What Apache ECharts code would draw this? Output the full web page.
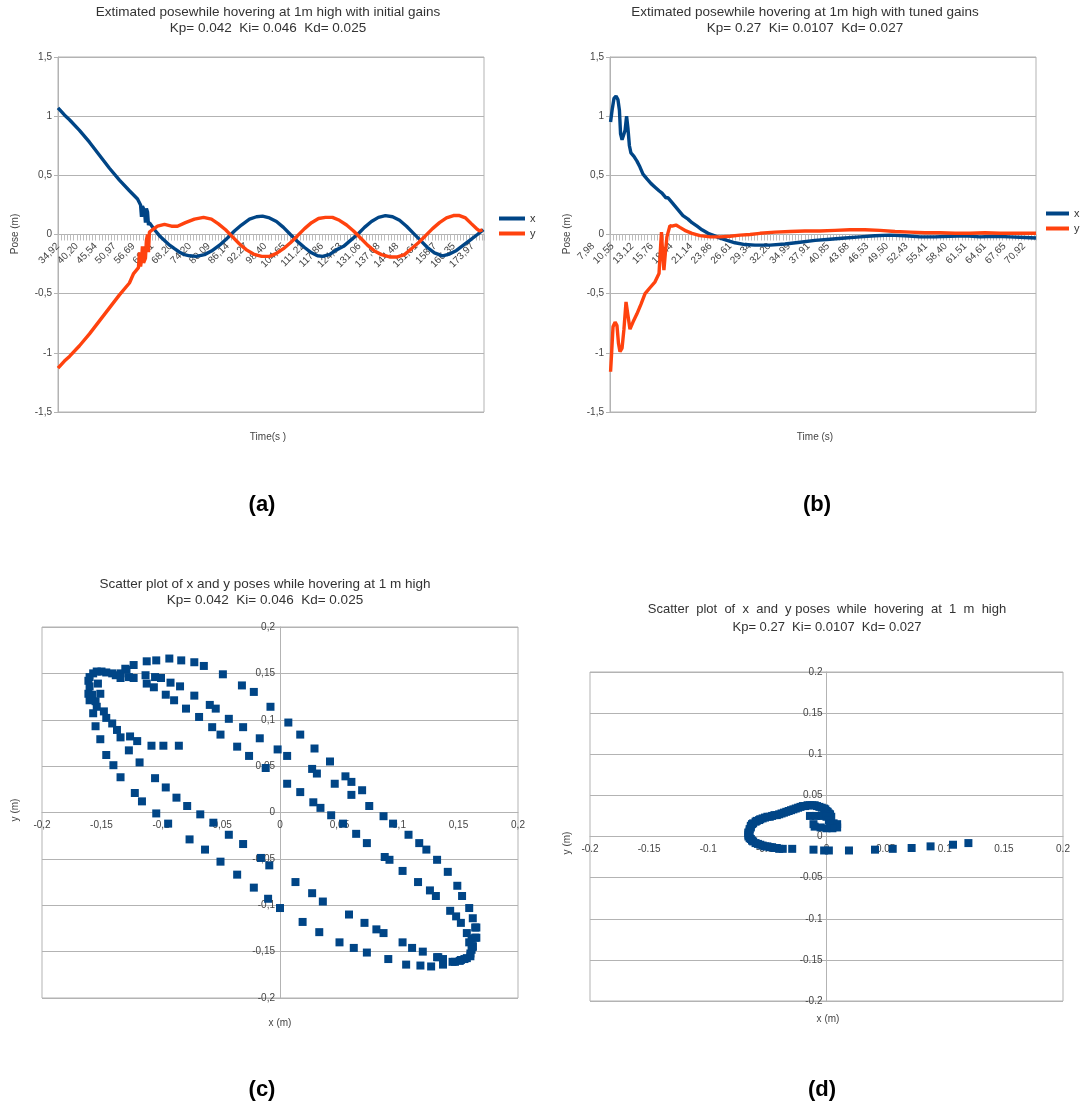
<!DOCTYPE html>
<html>
<head>
<meta charset="utf-8">
<script src="https://cdn.jsdelivr.net/npm/echarts@6/dist/echarts.min.js"></script>
<style>
  html, body { margin: 0; padding: 0; background: #fff; }
  #chart { width: 1081px; height: 1106px; }
</style>
</head>
<body>
<div id="chart"></div>
<script>
// ---- Tick labels of the time axes (seconds, comma decimals) ----
const TIME_LABELS_A = ['34,92','40,20','45,54','50,97','56,69','62,41','68,20','74,20','80,09','86,14','92,27','98,40',
  '104,65','111,22','117,86','124,53','131,06','137,68','144,48','151,61','158,7','166,35','173,97'];
const TIME_LABELS_B = ['7,98','10,55','13,12','15,76','18,44','21,14','23,86','26,61','29,34','32,20','34,99','37,91',
  '40,85','43,68','46,53','49,50','52,43','55,41','58,40','61,51','64,61','67,65','70,92'];

// ---- Pose over time, initial gains: [position on the time axis (label steps), pose in m] ----
const POSE_X_A = [[0,1.07],[0.34,1.01],[0.61,0.97],[1.14,0.88],[1.67,0.78],[2.20,0.67],[2.73,0.56],[3.26,0.46],[3.79,0.37],
  [4.22,0.30],[4.38,0.25],[4.43,0.15],[4.48,0.24],[4.59,0.20],[4.64,0.10],[4.69,0.22],[4.75,0.19],[4.80,0.08],[4.85,0.10],
  [5.12,0.04],[5.38,-0.01],[5.65,-0.05],[5.92,-0.09],[6.18,-0.12],[6.45,-0.15],[6.71,-0.17],[6.98,-0.18],[7.35,-0.185],
  [7.77,-0.17],[8.14,-0.14],[8.57,-0.09],[8.99,-0.03],[9.36,0.03],[9.73,0.08],[10.16,0.13],[10.53,0.15],[10.85,0.155],
  [11.22,0.14],[11.59,0.11],[11.96,0.06],[12.33,0.00],[12.71,-0.06],[13.08,-0.11],[13.45,-0.155],[13.77,-0.18],[14.03,-0.185],
  [14.40,-0.17],[14.77,-0.13],[15.15,-0.10],[15.52,-0.05],[15.89,0.00],[16.26,0.06],[16.63,0.11],[17.00,0.145],[17.37,0.16],
  [17.75,0.15],[18.12,0.12],[18.49,0.07],[18.86,0.01],[19.23,-0.05],[19.60,-0.11],[19.97,-0.155],[20.40,-0.18],[20.77,-0.165],
  [21.14,-0.135],[21.51,-0.09],[21.88,-0.045],[22.25,0.00],[22.57,0.04]];
const POSE_Y_A = [[0,-1.13],[0.34,-1.07],[0.61,-1.03],[1.14,-0.94],[1.67,-0.84],[2.20,-0.73],[2.73,-0.62],[3.26,-0.51],[3.79,-0.41],
  [4.01,-0.33],[4.27,-0.28],[4.32,-0.15],[4.38,-0.27],[4.43,-0.22],[4.48,-0.10],[4.54,-0.24],[4.64,-0.20],[4.69,-0.05],[4.75,0.00],
  [4.80,-0.15],[4.85,0.02],[5.01,0.04],[5.28,0.07],[5.65,0.085],[6.02,0.07],[6.34,0.07],[6.76,0.10],[7.24,0.13],[7.72,0.145],
  [8.14,0.13],[8.51,0.09],[8.89,0.04],[9.26,-0.02],[9.63,-0.08],[10.00,-0.13],[10.37,-0.165],[10.80,-0.185],[11.22,-0.185],
  [11.59,-0.16],[11.96,-0.12],[12.33,-0.07],[12.71,-0.01],[13.08,0.05],[13.45,0.10],[13.82,0.135],[14.19,0.145],[14.56,0.145],
  [14.93,0.12],[15.31,0.08],[15.68,0.03],[16.05,-0.03],[16.42,-0.09],[16.79,-0.14],[17.16,-0.17],[17.59,-0.19],[18.01,-0.19],
  [18.38,-0.17],[18.75,-0.12],[19.12,-0.07],[19.50,-0.01],[19.87,0.05],[20.24,0.10],[20.61,0.14],[20.98,0.16],[21.30,0.16],
  [21.62,0.14],[21.94,0.09],[22.20,0.05],[22.36,0.03],[22.52,0.04]];

// ---- Pose over time, tuned gains ----
const POSE_X_B = [[0.03,0.95],[0.11,1.05],[0.21,1.15],[0.32,1.17],[0.42,1.14],[0.50,1.05],[0.56,0.85],[0.64,0.80],[0.72,0.80],
  [0.80,0.88],[0.88,1.00],[0.95,0.90],[1.03,0.75],[1.11,0.69],[1.27,0.66],[1.43,0.62],[1.59,0.57],[1.75,0.51],[1.96,0.47],
  [2.18,0.43],[2.39,0.40],[2.60,0.37],[2.76,0.35],[2.86,0.36],[2.97,0.31],[3.08,0.31],[3.24,0.28],[3.45,0.24],[3.66,0.20],
  [3.87,0.16],[4.14,0.13],[4.35,0.10],[4.62,0.07],[4.88,0.04],[5.20,0.01],[5.52,-0.01],[5.84,-0.03],[6.21,-0.05],[6.63,-0.07],
  [7.16,-0.085],[7.69,-0.09],[8.49,-0.09],[9.28,-0.08],[10.08,-0.065],[10.88,-0.05],[11.67,-0.04],[12.47,-0.03],[13.26,-0.02],
  [14.06,-0.01],[14.85,-0.005],[15.65,-0.01],[16.45,-0.02],[17.24,-0.02],[18.04,-0.015],[18.83,-0.01],[19.63,-0.02],
  [20.42,-0.015],[21.22,-0.02],[22.02,-0.025],[22.60,-0.03]];
const POSE_Y_B = [[0.03,-1.16],[0.08,-1.02],[0.16,-0.78],[0.27,-0.74],[0.37,-0.77],[0.45,-0.92],[0.53,-0.99],[0.64,-0.96],
  [0.74,-0.80],[0.85,-0.57],[0.95,-0.68],[1.06,-0.80],[1.22,-0.74],[1.43,-0.67],[1.64,-0.59],[1.86,-0.50],[2.12,-0.45],
  [2.39,-0.40],[2.60,-0.33],[2.73,0.02],[2.79,-0.15],[2.86,-0.30],[2.94,-0.15],[3.02,-0.02],[3.18,0.075],[3.29,0.07],
  [3.50,0.08],[3.71,0.06],[4.03,0.03],[4.35,0.01],[4.77,-0.01],[5.31,-0.02],[5.84,-0.02],[6.37,-0.015],[6.90,-0.005],
  [7.43,0.0],[7.96,0.01],[8.75,0.02],[9.55,0.025],[10.34,0.03],[11.14,0.03],[11.94,0.035],[12.73,0.04],[13.53,0.04],
  [14.32,0.035],[15.12,0.025],[15.92,0.02],[16.71,0.015],[17.51,0.015],[18.30,0.01],[19.10,0.01],[19.89,0.015],
  [20.69,0.01],[21.49,0.01],[22.60,0.01]];

// ---- x/y pose pairs, initial gains: [x m, y m] ----
const SCATTER_C = [
  [-0.112,0.163],[-0.104,0.164],[-0.093,0.166],[-0.083,0.164],[-0.072,0.162],[-0.064,0.158],[-0.048,0.149],[-0.032,0.137],
  [-0.022,0.130],[-0.008,0.114],[0.007,0.097],[0.017,0.084],[0.029,0.069],[0.042,0.055],[0.055,0.039],[0.060,0.033],
  [0.069,0.024],[0.075,0.007],[0.087,-0.004],[0.095,-0.012],[0.108,-0.024],[0.117,-0.033],[0.123,-0.040],[0.132,-0.051],
  [0.141,-0.064],[0.149,-0.079],[0.153,-0.090],[0.159,-0.103],[0.162,-0.114],[0.165,-0.124],[0.165,-0.135],[0.162,-0.145],
  [-0.123,0.159],[-0.130,0.155],[-0.113,0.148],[-0.105,0.146],[-0.100,0.145],[-0.092,0.140],[-0.084,0.136],[-0.112,0.139],
  [-0.106,0.135],[-0.096,0.127],[-0.089,0.121],[-0.072,0.126],[-0.059,0.116],[-0.054,0.112],[-0.079,0.112],[-0.068,0.103],
  [-0.057,0.092],[-0.050,0.084],[-0.043,0.101],[-0.031,0.092],[-0.017,0.080],[-0.036,0.071],[-0.026,0.061],[-0.002,0.068],
  [0.006,0.061],[-0.012,0.048],[0.006,0.031],
  [-0.161,0.142],[-0.157,0.150],[-0.150,0.152],[-0.141,0.150],[-0.134,0.150],[-0.129,0.154],[-0.160,0.136],[-0.158,0.127],
  [-0.155,0.120],[-0.154,0.114],[-0.157,0.107],[-0.148,0.109],[-0.146,0.102],[-0.141,0.096],[-0.137,0.089],[-0.134,0.081],
  [-0.155,0.093],[-0.151,0.079],[-0.126,0.082],[-0.120,0.077],[-0.127,0.067],[-0.108,0.072],[-0.098,0.072],[-0.085,0.072],
  [-0.160,0.146],[-0.154,0.152],[-0.146,0.151],[-0.138,0.148],[-0.153,0.139],[-0.151,0.128],[-0.160,0.121],[-0.161,0.128],
  [-0.134,0.145],[-0.127,0.146],[-0.123,0.145],
  [-0.146,0.062],[-0.140,0.051],[-0.134,0.038],[-0.122,0.021],[-0.116,0.012],[-0.104,-0.001],[-0.094,-0.012],
  [-0.118,0.054],[-0.105,0.037],[-0.096,0.027],[-0.087,0.016],[-0.078,0.007],[-0.067,-0.002],[-0.056,-0.011],[-0.043,-0.024],
  [-0.031,-0.034],[-0.076,-0.029],[-0.063,-0.040],[-0.050,-0.053],[-0.036,-0.067],[-0.022,-0.081],[-0.010,-0.093],[0.000,-0.103],
  [-0.016,-0.049],[-0.009,-0.057],[0.013,-0.075],[0.027,-0.087],[0.036,-0.096],
  [0.027,0.047],[0.031,0.042],[0.046,0.031],[0.060,0.019],[0.017,0.022],[0.028,0.011],[0.034,0.005],[0.043,-0.003],
  [0.053,-0.012],[0.064,-0.023],[0.073,-0.033],[0.088,-0.048],[0.092,-0.051],[0.103,-0.063],[0.116,-0.075],[0.126,-0.084],
  [0.131,-0.090],[0.143,-0.106],[0.148,-0.112],[0.152,-0.119],[0.157,-0.130],[0.161,-0.136],
  [0.160,-0.152],[0.157,-0.157],[0.152,-0.159],[0.147,-0.161],[0.137,-0.164],[0.127,-0.166],[0.118,-0.165],[0.106,-0.164],
  [0.133,-0.156],[0.120,-0.150],[0.111,-0.146],[0.103,-0.140],[0.091,-0.158],[0.087,-0.130],[0.081,-0.126],[0.071,-0.119],
  [0.058,-0.110],[0.073,-0.151],[0.062,-0.146],[0.050,-0.140],[0.033,-0.129],[0.019,-0.118],
  [0.164,-0.124],[0.164,-0.135],[0.162,-0.144],[0.160,-0.155],[0.155,-0.158],[0.151,-0.160],[0.145,-0.161],[0.137,-0.158],
  [0.132,-0.156],[0.159,-0.140],[0.161,-0.148]];

// ---- x/y pose pairs, tuned gains ----
const SCATTER_D = [
  [-0.040,-0.015],[-0.042,-0.014],[-0.044,-0.014],[-0.046,-0.013],[-0.048,-0.013],[-0.050,-0.012],[-0.052,-0.012],
  [-0.054,-0.011],[-0.056,-0.010],[-0.058,-0.009],[-0.060,-0.008],[-0.062,-0.006],[-0.063,-0.005],[-0.064,-0.003],
  [-0.065,-0.002],[-0.066,0.000],[-0.066,0.002],[-0.066,0.004],[-0.066,0.005],[-0.065,0.007],[-0.065,0.009],[-0.064,0.011],
  [-0.064,0.013],[-0.063,0.015],[-0.062,0.016],[-0.060,0.018],[-0.059,0.019],[-0.057,0.020],[-0.056,0.021],[-0.054,0.022],
  [-0.052,0.023],[-0.050,0.024],[-0.048,0.024],[-0.046,0.025],[-0.044,0.026],[-0.042,0.026],[-0.040,0.027],[-0.038,0.028],
  [-0.036,0.029],[-0.034,0.030],[-0.032,0.031],[-0.030,0.032],[-0.028,0.033],[-0.026,0.034],[-0.024,0.035],[-0.022,0.036],
  [-0.020,0.037],[-0.018,0.037],[-0.016,0.038],[-0.014,0.038],[-0.012,0.038],[-0.010,0.038],[-0.008,0.037],[-0.006,0.036],
  [-0.004,0.035],[-0.002,0.034],[-0.001,0.033],[0.000,0.031],[0.001,0.030],[0.002,0.028],[0.003,0.027],[0.004,0.024],
  [-0.014,0.025],[-0.009,0.025],[-0.004,0.025],[0.000,0.024],[0.002,0.020],[0.003,0.016],[0.006,0.016],[0.009,0.015],
  [0.009,0.011],[0.005,0.010],[0.000,0.010],[-0.005,0.011],[-0.010,0.012],[-0.011,0.015],
  [-0.037,-0.015],[-0.029,-0.015],[-0.011,-0.016],[-0.002,-0.017],[0.002,-0.017],[0.019,-0.017],[0.041,-0.016],
  [0.056,-0.015],[0.072,-0.014],[0.088,-0.012],[0.107,-0.010],[0.120,-0.008]];

const BLUE = '#004586';
const ORANGE = '#ff420e';
const GRID_LINE = '#b3b3b3';
const LABEL = '#444';
const FONT = '"Liberation Sans", Arial, sans-serif';

const comma = v => String(+v.toFixed(2)).replace('.', ',');
const dot = v => String(+v.toFixed(2));

// Plot boxes. Grid 4 is an invisible strip that only carries the time labels of (b),
// whose label row runs a little further left than the plot itself.
const GRIDS = [
  { left: 58, top: 57, width: 426, height: 355 },
  { left: 610, top: 57, width: 426, height: 355 },
  { left: 42, top: 627, width: 476, height: 371 },
  { left: 590, top: 672, width: 473, height: 329 }
];
const LABEL_STRIP_B = { left: 593, top: 57, width: 431, height: 177.5 };

const halfH = g => -g.height / 2;
const halfW = g => -g.width / 2;

const timeLabel = (labels, showMax) => ({
  rotate: 45, margin: 10, fontSize: 10, color: LABEL, fontFamily: FONT, showMaxLabel: showMax,
  formatter: v => (Number.isInteger(v) && labels[v] !== undefined) ? labels[v] : ''
});

function timeAxis(gridIndex, labels) {
  return {
    gridIndex, type: 'value', min: 0, max: 22.6, interval: 1,
    position: 'bottom', offset: halfH(GRIDS[gridIndex]),
    axisLine: { onZero: false, lineStyle: { color: GRID_LINE, width: 1 } },
    axisTick: { show: true, length: 6, lineStyle: { color: '#bdbdbd' } },
    minorTick: { show: true, splitNumber: 6, length: 6, lineStyle: { color: '#bdbdbd' } },
    splitLine: { show: false },
    axisLabel: labels ? timeLabel(labels, false) : { show: false }
  };
}
function poseAxis(gridIndex) {
  return {
    gridIndex, type: 'value', min: -1.5, max: 1.5, interval: 0.5,
    axisLine: { show: true, onZero: false, lineStyle: { color: GRID_LINE } },
    axisTick: { show: true, length: 4, lineStyle: { color: GRID_LINE } },
    splitLine: { show: true, lineStyle: { color: GRID_LINE } },
    axisLabel: { margin: 6, fontSize: 10, color: LABEL, fontFamily: FONT, formatter: comma }
  };
}
function xyAxis(gridIndex, fmt, margin, isY) {
  const g = GRIDS[gridIndex];
  return {
    gridIndex, type: 'value', min: -0.2, max: 0.2, interval: 0.05,
    position: isY ? 'left' : 'bottom',
    offset: isY ? halfW(g) : halfH(g),
    axisLine: { show: true, onZero: false, lineStyle: { color: GRID_LINE } },
    axisTick: { show: false },
    splitLine: { show: isY, lineStyle: { color: GRID_LINE } },
    axisLabel: { margin, fontSize: 10, color: LABEL, fontFamily: FONT, formatter: fmt,
      showMinLabel: true, showMaxLabel: true }
  };
}
function lineSeries(name, data, color, axis) {
  return {
    name, type: 'line', data, xAxisIndex: axis, yAxisIndex: axis,
    showSymbol: false, symbol: 'none', smooth: false,
    lineStyle: { color, width: 3.4 }, itemStyle: { color }
  };
}
function text(x, y, str, opts) {
  return Object.assign({
    type: 'text', x, y,
    style: Object.assign({
      text: str, fill: '#333', font: '13.5px ' + FONT,
      align: 'center', textAlign: 'center', verticalAlign: 'middle', textVerticalAlign: 'middle'
    }, opts && opts.style)
  }, opts && opts.el);
}

const panelLetter = { font: 'bold 22px ' + FONT, fill: '#000' };
const smallText = { font: '10px ' + FONT, fill: '#444' };
const legendStyle = { fontSize: 11, color: '#333', fontFamily: FONT };

const option = {
  animation: false,
  backgroundColor: '#fff',
  grid: GRIDS.map(g => Object.assign({ show: true, borderColor: GRID_LINE, borderWidth: 1 }, g))
    .concat([Object.assign({ show: false }, LABEL_STRIP_B)]),
  xAxis: [
    timeAxis(0, TIME_LABELS_A),
    timeAxis(1, null),
    xyAxis(2, comma, 8, false),
    xyAxis(3, dot, 8, false),
    { gridIndex: 4, type: 'value', min: 0, max: 22, interval: 1, position: 'bottom',
      axisLine: { show: false, onZero: false }, axisTick: { show: false }, splitLine: { show: false },
      axisLabel: timeLabel(TIME_LABELS_B, true) }
  ],
  yAxis: [
    poseAxis(0),
    poseAxis(1),
    xyAxis(2, comma, 5, true),
    xyAxis(3, dot, 4, true),
    { gridIndex: 4, type: 'value', min: 0, max: 1, show: false }
  ],
  legend: [
    { left: 494, top: 208, orient: 'vertical', icon: 'rect', itemWidth: 26, itemHeight: 4, itemGap: 4,
      data: ['x', 'y'], textStyle: legendStyle, selectedMode: false },
    { left: 1046, top: 208, orient: 'vertical', icon: 'rect', itemWidth: 23, itemHeight: 4, itemGap: 4,
      data: ['x', 'y'], textStyle: legendStyle, selectedMode: false, padding: 0 }
  ],
  series: [
    lineSeries('x', POSE_X_A, BLUE, 0),
    lineSeries('y', POSE_Y_A, ORANGE, 0),
    lineSeries('x', POSE_X_B, BLUE, 1),
    lineSeries('y', POSE_Y_B, ORANGE, 1),
    { name: 'xy initial', type: 'scatter', xAxisIndex: 2, yAxisIndex: 2, data: SCATTER_C,
      symbol: 'rect', symbolSize: 8, itemStyle: { color: BLUE, opacity: 1 } },
    { name: 'xy tuned', type: 'scatter', xAxisIndex: 3, yAxisIndex: 3, data: SCATTER_D,
      symbol: 'rect', symbolSize: 8, itemStyle: { color: BLUE, opacity: 1 } }
  ],
  graphic: [
    text(268, 20, 'Extimated posewhile hovering at 1m high with initial gains\nKp= 0.042  Ki= 0.046  Kd= 0.025', { style: { lineHeight: 16 } }),
    text(805, 20, 'Extimated posewhile hovering at 1m high with tuned gains\nKp= 0.27  Ki= 0.0107  Kd= 0.027', { style: { lineHeight: 16 } }),
    text(265, 592, 'Scatter plot of x and y poses while hovering at 1 m high\nKp= 0.042  Ki= 0.046  Kd= 0.025', { style: { lineHeight: 16 } }),
    text(827, 618, 'Scatter  plot  of  x  and  y poses  while  hovering  at  1  m  high\nKp= 0.27  Ki= 0.0107  Kd= 0.027', { style: { lineHeight: 18, font: '13px ' + FONT } }),
    text(15, 234, 'Pose (m)', { style: smallText, el: { rotation: Math.PI / 2 } }),
    text(567, 234, 'Pose (m)', { style: smallText, el: { rotation: Math.PI / 2 } }),
    text(268, 437, 'Time(s )', { style: smallText }),
    text(815, 437, 'Time (s)', { style: smallText }),
    text(15, 810, 'y (m)', { style: smallText, el: { rotation: Math.PI / 2 } }),
    text(567, 843, 'y (m)', { style: smallText, el: { rotation: Math.PI / 2 } }),
    text(280, 1023, 'x (m)', { style: smallText }),
    text(828, 1019, 'x (m)', { style: smallText }),
    text(262, 505, '(a)', { style: panelLetter }),
    text(817, 505, '(b)', { style: panelLetter }),
    text(262, 1090, '(c)', { style: panelLetter }),
    text(822, 1090, '(d)', { style: panelLetter })
  ]
};

const chart = echarts.init(document.getElementById('chart'), null, { renderer: 'canvas' });
chart.setOption(option);
</script>
</body>
</html>
